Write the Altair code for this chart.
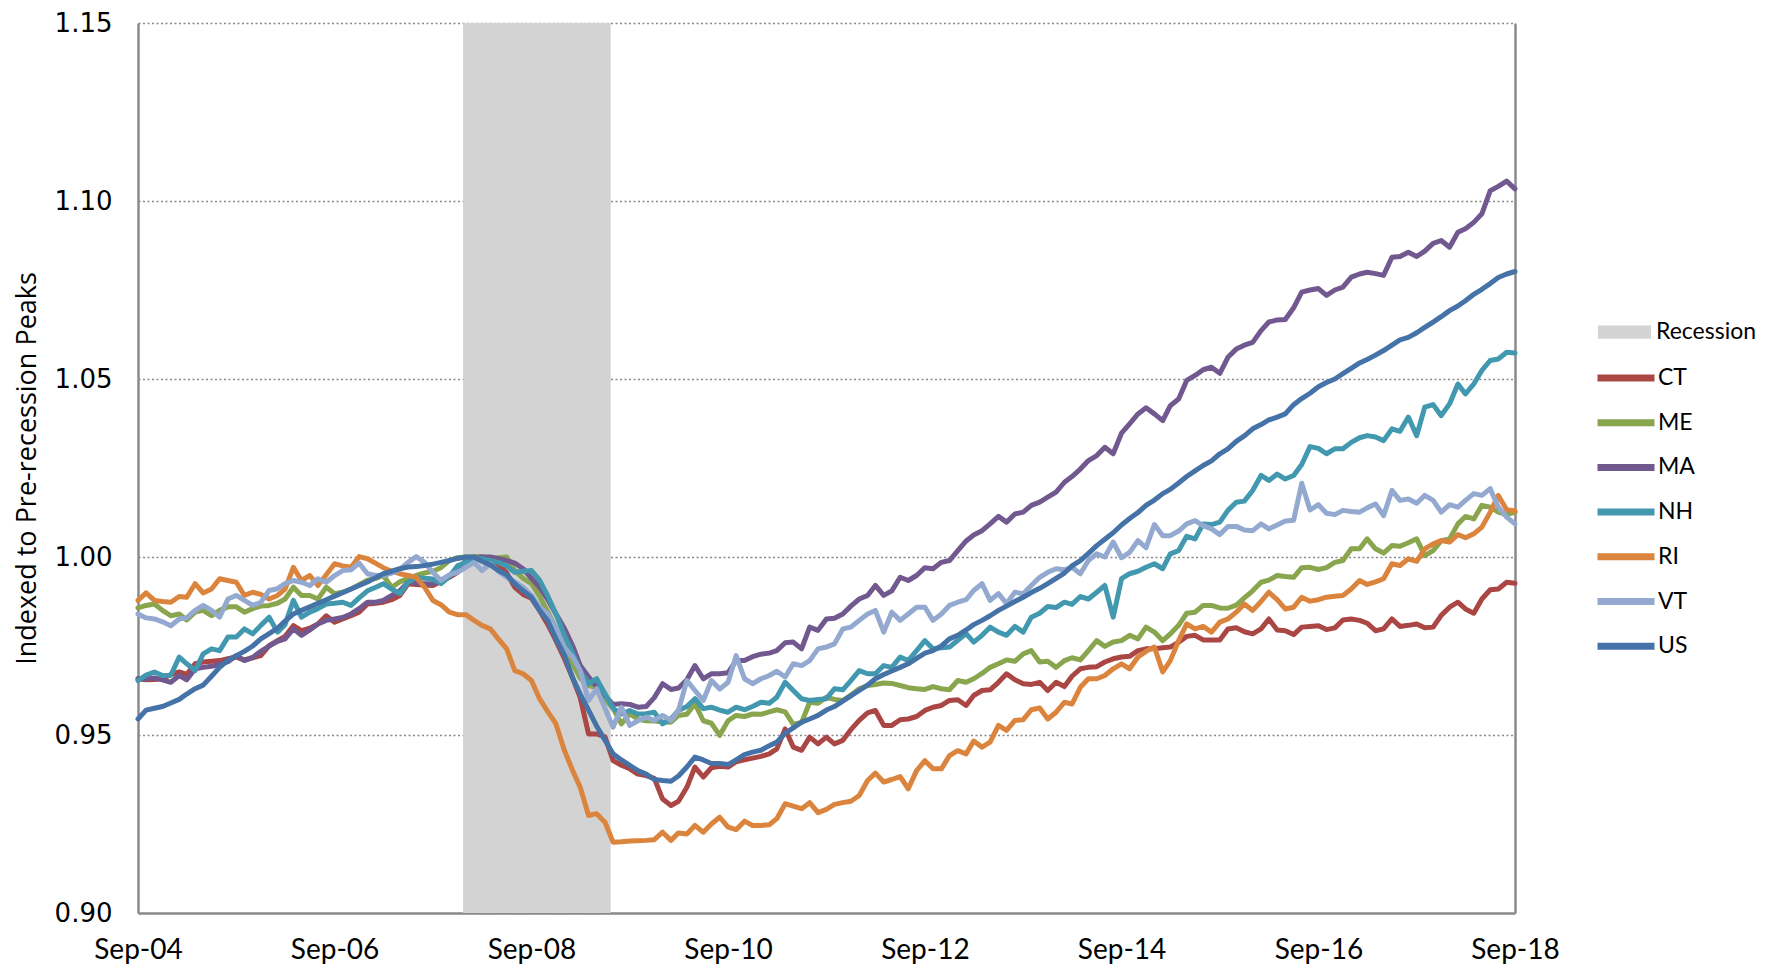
import altair as alt
import pandas as pd

# ---------------- data ----------------
MONTHS = pd.date_range("2004-09-01", "2018-09-01", freq="MS")  # Sep-04 .. Sep-18 monthly

SERIES = ["CT", "ME", "MA", "NH", "RI", "VT", "US"]
COLORS = ["#AA4643", "#89A54E", "#71588F", "#4198AF", "#DB843D", "#93A9CF", "#4572A7"]

CT = [0.9658, 0.9655, 0.9656, 0.9658, 0.967, 0.9677, 0.967, 0.970, 0.9705, 0.9707, 0.9709, 0.9714,
      0.9719, 0.9711, 0.9717, 0.9723, 0.9751, 0.9765, 0.9777, 0.9807, 0.9793, 0.980, 0.9812, 0.9835,
      0.9817, 0.9826, 0.9835, 0.9845, 0.9868, 0.987, 0.9873, 0.988, 0.9892, 0.9925, 0.9923, 0.9921,
      0.992, 0.9932, 0.9943, 0.9957, 0.999, 1.0, 1.0, 0.9995, 0.998, 0.9955, 0.9915, 0.9895,
      0.9884, 0.985, 0.981, 0.9765, 0.9715, 0.966, 0.9605, 0.9503, 0.9503, 0.9495, 0.9428, 0.9415,
      0.9405, 0.939, 0.9386, 0.9378, 0.932, 0.9302, 0.9314, 0.9353, 0.941, 0.9382, 0.9408, 0.9412,
      0.941, 0.9425, 0.943, 0.9435, 0.944, 0.9447, 0.9461, 0.9517, 0.9466, 0.9457, 0.9494, 0.9475,
      0.9494, 0.9475, 0.9485, 0.9515, 0.9541, 0.9562, 0.9569, 0.9527, 0.9527, 0.9543, 0.9545, 0.9552,
      0.9569, 0.9578, 0.9583, 0.9597, 0.9599, 0.9583, 0.9611, 0.9625, 0.9627, 0.9648, 0.9672, 0.9655,
      0.9644, 0.9642, 0.9648, 0.9625, 0.9648, 0.9636, 0.9665, 0.9686, 0.969, 0.9692, 0.9705, 0.9714,
      0.9719, 0.9721, 0.9737, 0.9742, 0.9742, 0.9745, 0.9747, 0.9761, 0.9777, 0.978, 0.9767, 0.9767,
      0.9767, 0.9798, 0.9801, 0.979, 0.9784, 0.9798, 0.9826, 0.9795, 0.9793, 0.9782, 0.9803, 0.9805,
      0.9807, 0.9796, 0.9801, 0.9823, 0.9826, 0.9822, 0.9814, 0.9793, 0.9798, 0.9826, 0.9805, 0.9808,
      0.9812, 0.9801, 0.9803, 0.9836, 0.9859, 0.9873, 0.9854, 0.9842, 0.9882, 0.9908, 0.991, 0.9929,
      0.9926]

ME = [0.9857, 0.9864, 0.9868, 0.985, 0.9835, 0.984, 0.9823, 0.9845, 0.985, 0.9835, 0.985, 0.986,
      0.986, 0.9845, 0.9855, 0.9862, 0.9864, 0.987, 0.9882, 0.9915, 0.9892, 0.9892, 0.9882, 0.9915,
      0.9897, 0.9901, 0.991, 0.9922, 0.9935, 0.994, 0.9948, 0.9915, 0.993, 0.994, 0.9948, 0.9955,
      0.996, 0.997, 0.999, 0.9998, 1.0, 1.0, 1.0, 0.9995, 0.9998, 1.0, 0.9962, 0.994,
      0.9925, 0.989, 0.9845, 0.980, 0.9747, 0.970, 0.966, 0.9639, 0.9634, 0.960, 0.9575, 0.9531,
      0.9559, 0.9545, 0.954, 0.9539, 0.9537, 0.9536, 0.9555, 0.9558, 0.9588, 0.954, 0.9533, 0.9499,
      0.954, 0.9555, 0.9552, 0.9559, 0.9558, 0.9565, 0.9571, 0.9565, 0.953, 0.9535, 0.9592, 0.9589,
      0.9606, 0.960, 0.9597, 0.9612, 0.963, 0.9639, 0.9642, 0.9646, 0.9645, 0.9639, 0.9633, 0.963,
      0.9628, 0.9636, 0.963, 0.9627, 0.9653, 0.9648, 0.9658, 0.9673, 0.969, 0.970, 0.9711, 0.9707,
      0.9728, 0.9737, 0.9705, 0.9707, 0.969, 0.9709, 0.9717, 0.9711, 0.9737, 0.9765, 0.9749, 0.9761,
      0.9765, 0.978, 0.977, 0.9803, 0.9789, 0.9765, 0.9784, 0.9808, 0.9842, 0.9845, 0.9864, 0.9864,
      0.9857, 0.9856, 0.9865, 0.9885, 0.9905, 0.9929, 0.9935, 0.9948, 0.9945, 0.9943, 0.997, 0.9971,
      0.9965, 0.997, 0.9985, 0.999, 1.0023, 1.0023, 1.0051, 1.0023, 1.0011, 1.0032, 1.003, 1.004,
      1.0051, 1.0004, 1.0018, 1.0046, 1.0051, 1.0093, 1.0114, 1.0107, 1.0145, 1.014, 1.0126, 1.0119,
      1.0126]

MA = [0.9658, 0.9658, 0.966, 0.9655, 0.9648, 0.9667, 0.9655, 0.9686, 0.969, 0.9693, 0.9698, 0.9706,
      0.9723, 0.9709, 0.9718, 0.9735, 0.975, 0.9763, 0.977, 0.9798, 0.978, 0.9795, 0.9812, 0.9822,
      0.9826, 0.983, 0.984, 0.9855, 0.9873, 0.9873, 0.9878, 0.9892, 0.9905, 0.9929, 0.9927, 0.9925,
      0.9925, 0.9935, 0.9948, 0.9958, 0.9975, 0.9995, 1.0, 1.0, 0.9995, 0.999, 0.9983, 0.9967,
      0.994, 0.9915, 0.988, 0.984, 0.980, 0.975, 0.9695, 0.9663, 0.9636, 0.961, 0.9586, 0.9588,
      0.9586, 0.9578, 0.958, 0.9605, 0.9644, 0.9628, 0.9632, 0.9655, 0.9695, 0.9658, 0.9672, 0.9672,
      0.9675, 0.9709, 0.9709, 0.972, 0.9727, 0.973, 0.9737, 0.9759, 0.9761, 0.9742, 0.9803, 0.9794,
      0.9826, 0.9828, 0.984, 0.9862, 0.9882, 0.9892, 0.992, 0.9892, 0.9905, 0.9943, 0.9934, 0.9948,
      0.997, 0.9967, 0.9985, 0.999, 1.0018, 1.0045, 1.0062, 1.0074, 1.0093, 1.0114, 1.0098, 1.0121,
      1.0126, 1.0145, 1.0154, 1.0168, 1.0182, 1.021, 1.0226, 1.0247, 1.0271, 1.0285, 1.0308, 1.029,
      1.0348, 1.0374, 1.0402, 1.0419, 1.0402, 1.0383, 1.0425, 1.0444, 1.0496, 1.051, 1.0526, 1.0533,
      1.0516, 1.0561, 1.0584, 1.0595, 1.0603, 1.0636, 1.066, 1.0666, 1.0667, 1.070, 1.0744, 1.075,
      1.0754, 1.0735, 1.075, 1.0758, 1.0786, 1.0795, 1.08, 1.0796, 1.0791, 1.0842, 1.0844, 1.0856,
      1.0844, 1.0859, 1.0881, 1.0889, 1.087, 1.0912, 1.0922, 1.094, 1.0964, 1.1029, 1.1041, 1.1056,
      1.1034]

NH = [0.9653, 0.9668, 0.9677, 0.9667, 0.9668, 0.9719, 0.970, 0.9681, 0.9728, 0.9742, 0.9737, 0.9775,
      0.9775, 0.9798, 0.9784, 0.9808, 0.9831, 0.9789, 0.981, 0.9878, 0.9831, 0.9845, 0.9855, 0.9868,
      0.987, 0.9873, 0.9864, 0.9885, 0.9905, 0.9915, 0.9925, 0.991, 0.9897, 0.9929, 0.9943, 0.994,
      0.9938, 0.9925, 0.9945, 0.9975, 0.9985, 0.9998, 0.9995, 0.999, 0.9985, 0.9975, 0.9957, 0.996,
      0.9962, 0.9935, 0.989, 0.984, 0.978, 0.973, 0.968, 0.9644, 0.9658, 0.9616, 0.9575, 0.9559,
      0.9569, 0.9559, 0.956, 0.9564, 0.9531, 0.9545, 0.9569, 0.958, 0.9602, 0.9574, 0.9578, 0.957,
      0.9564, 0.9578, 0.9571, 0.958, 0.9592, 0.9589, 0.9606, 0.9648, 0.9625, 0.9602, 0.9597, 0.960,
      0.9602, 0.963, 0.9627, 0.9653, 0.9681, 0.9672, 0.9672, 0.9695, 0.969, 0.9719, 0.9709, 0.9737,
      0.9765, 0.9742, 0.9745, 0.9747, 0.9766, 0.9785, 0.9761, 0.978, 0.9803, 0.9789, 0.978, 0.9805,
      0.9789, 0.9831, 0.9842, 0.9861, 0.9858, 0.9873, 0.9867, 0.9889, 0.9882, 0.9901, 0.992, 0.9831,
      0.9939, 0.9953, 0.996, 0.9971, 0.9981, 0.9967, 1.0009, 1.0018, 1.0058, 1.0051, 1.0093, 1.0091,
      1.0098, 1.0131, 1.0154, 1.0157, 1.0187, 1.0229, 1.0215, 1.0233, 1.0219, 1.0229, 1.026, 1.031,
      1.0305, 1.029, 1.0304, 1.0304, 1.0322, 1.0335, 1.0341, 1.0337, 1.0327, 1.036, 1.0353, 1.0393,
      1.0341, 1.0421, 1.0428, 1.0397, 1.043, 1.0486, 1.0458, 1.0486, 1.0524, 1.0552, 1.0556, 1.0575,
      1.0573]

RI = [0.9878, 0.9899, 0.9878, 0.9875, 0.9873, 0.9889, 0.9887, 0.9925, 0.9899, 0.991, 0.9939, 0.9934,
      0.9929, 0.9892, 0.9901, 0.9895, 0.9882, 0.9892, 0.991, 0.9971, 0.9934, 0.9948, 0.992, 0.995,
      0.9981, 0.9975, 0.9971, 1.0001, 0.9995, 0.9982, 0.997, 0.996, 0.9953, 0.9948, 0.9943, 0.9915,
      0.9878, 0.9866, 0.9845, 0.9838, 0.9838, 0.9822, 0.9808, 0.9798, 0.977, 0.9742, 0.9681, 0.9672,
      0.9653, 0.9602, 0.9565, 0.9531, 0.9457, 0.940, 0.9353, 0.9274, 0.9279, 0.9255, 0.9199, 0.920,
      0.9202, 0.9203, 0.9204, 0.9206, 0.9227, 0.9204, 0.9225, 0.9222, 0.9246, 0.9227, 0.925, 0.9269,
      0.9241, 0.9234, 0.9258, 0.9246, 0.9246, 0.9248, 0.9265, 0.9307, 0.930, 0.9293, 0.931, 0.9282,
      0.9291, 0.9305, 0.931, 0.9314, 0.933, 0.9372, 0.9393, 0.9368, 0.9375, 0.9383, 0.9349, 0.940,
      0.9428, 0.9405, 0.9405, 0.9442, 0.9456, 0.9447, 0.9483, 0.9466, 0.948, 0.9527, 0.9513, 0.9541,
      0.9543, 0.9571, 0.9576, 0.9545, 0.9564, 0.9592, 0.9587, 0.9634, 0.9658, 0.9658, 0.9667, 0.9686,
      0.970, 0.9686, 0.9719, 0.9735, 0.9747, 0.9677, 0.9709, 0.9765, 0.9812, 0.9798, 0.9805, 0.9789,
      0.9817, 0.9826, 0.9845, 0.9868, 0.985, 0.9875, 0.9901, 0.988, 0.9854, 0.9859, 0.9887, 0.9876,
      0.988, 0.9887, 0.989, 0.9892, 0.991, 0.9934, 0.9923, 0.993, 0.9939, 0.9981, 0.9976, 0.9995,
      0.9988, 1.0023, 1.0037, 1.0046, 1.0042, 1.0063, 1.0054, 1.0065, 1.0084, 1.0126, 1.0173, 1.0133,
      1.0129]

VT = [0.984, 0.9829, 0.9826, 0.9818, 0.9807, 0.9826, 0.9829, 0.985, 0.9864, 0.985, 0.9831, 0.9882,
      0.9892, 0.9878, 0.9864, 0.9873, 0.9906, 0.9911, 0.9925, 0.9934, 0.9929, 0.992, 0.9939, 0.9929,
      0.9948, 0.9962, 0.9964, 0.9983, 0.9953, 0.9948, 0.9948, 0.9955, 0.9965, 0.9985, 1.0001, 0.9985,
      0.9957, 0.9934, 0.995, 0.9957, 0.9971, 0.9985, 0.9962, 0.9981, 0.996, 0.9943, 0.993, 0.9915,
      0.9892, 0.986, 0.984, 0.980, 0.9745, 0.9719, 0.9681, 0.9597, 0.963, 0.9575, 0.9522, 0.9578,
      0.9527, 0.954, 0.955, 0.9541, 0.9555, 0.9541, 0.9569, 0.9653, 0.9625, 0.9597, 0.9653, 0.9629,
      0.9648, 0.9723, 0.9658, 0.9644, 0.9658, 0.9667, 0.9679, 0.9663, 0.970, 0.9695, 0.9709, 0.9742,
      0.9747, 0.9756, 0.9798, 0.9803, 0.9822, 0.984, 0.985, 0.9789, 0.9845, 0.9822, 0.984, 0.9859,
      0.9859, 0.9822, 0.984, 0.9864, 0.9873, 0.988, 0.9906, 0.9925, 0.9878, 0.9897, 0.9869, 0.9901,
      0.9897, 0.992, 0.9943, 0.9957, 0.9967, 0.9964, 0.9971, 0.9953, 0.999, 1.0009, 1.0, 1.0042,
      0.9998, 1.0013, 1.0046, 1.0026, 1.0091, 1.006, 1.006, 1.0073, 1.0093, 1.0102, 1.0088, 1.0079,
      1.0063, 1.0086, 1.0086, 1.0076, 1.0074, 1.0093, 1.0079, 1.009, 1.0101, 1.0103, 1.0207, 1.0132,
      1.0147, 1.0123, 1.0119, 1.0131, 1.0128, 1.0126, 1.0138, 1.0149, 1.0116, 1.0187, 1.0159, 1.0163,
      1.0151, 1.0173, 1.0159, 1.0126, 1.0147, 1.014, 1.0159, 1.0178, 1.0173, 1.0192, 1.014, 1.0112,
      1.0093]

US = [0.9545, 0.957, 0.9575, 0.958, 0.959, 0.960, 0.9615, 0.963, 0.964, 0.9665, 0.969, 0.971,
      0.9723, 0.9735, 0.975, 0.977, 0.9785, 0.980, 0.982, 0.984, 0.985, 0.986, 0.987, 0.988,
      0.989, 0.990, 0.991, 0.992, 0.993, 0.9942, 0.9953, 0.996, 0.9967, 0.9972, 0.9973, 0.9976,
      0.998, 0.9985, 0.999, 0.9996, 1.0, 1.0, 0.9988, 0.9978, 0.9962, 0.995, 0.9925, 0.9905,
      0.9887, 0.985, 0.982, 0.977, 0.9725, 0.966, 0.9615, 0.957, 0.9525, 0.9485, 0.9447, 0.943,
      0.9415, 0.940, 0.939, 0.9375, 0.9372, 0.937, 0.9385, 0.941, 0.9438, 0.943, 0.942, 0.942,
      0.9417, 0.943, 0.9445, 0.9452, 0.9457, 0.947, 0.948, 0.9505, 0.952, 0.9536, 0.9545, 0.9555,
      0.957, 0.958, 0.9595, 0.961, 0.9625, 0.964, 0.9658, 0.967, 0.968, 0.969, 0.970, 0.9715,
      0.973, 0.9737, 0.975, 0.977, 0.978, 0.9795, 0.981, 0.9822, 0.9835, 0.985, 0.9862, 0.9875,
      0.9887, 0.990, 0.9912, 0.9925, 0.994, 0.9955, 0.9975, 0.999, 1.001, 1.0032, 1.005, 1.0068,
      1.009, 1.0108, 1.0125, 1.0145, 1.016, 1.0178, 1.019, 1.0208, 1.0226, 1.0242, 1.0257, 1.027,
      1.029, 1.0304, 1.0325, 1.034, 1.036, 1.0372, 1.0385, 1.0393, 1.0402, 1.0428, 1.0445, 1.046,
      1.0478, 1.049, 1.050, 1.0515, 1.053, 1.0545, 1.0555, 1.0567, 1.058, 1.0595, 1.061, 1.0617,
      1.063, 1.0645, 1.066, 1.0675, 1.0692, 1.0705, 1.072, 1.0738, 1.0752, 1.0768, 1.0785, 1.0795,
      1.0802]

REC_LABEL = ["Recession"]
REC_START = ["2007-12-22"]
REC_END = ["2009-06-22"]
REC_LOW = [0.90]
REC_HIGH = [1.15]
REC_COLOR = ["#D3D3D3"]

X_TICK_YEARS = [2004, 2006, 2008, 2010, 2012, 2014, 2016, 2018]
Y_TICKS = [0.90, 0.95, 1.00, 1.05, 1.10, 1.15]
Y_TITLE = "Indexed to Pre-recession Peaks"

# ---------------- tables ----------------
values = {"CT": CT, "ME": ME, "MA": MA, "NH": NH, "RI": RI, "VT": VT, "US": US}
rows = []
for s in SERIES:
    for d, v in zip(MONTHS, values[s]):
        rows.append({"date": d, "series": s, "value": v})
df = pd.DataFrame(rows)

rec_df = pd.DataFrame({
    "label": REC_LABEL,
    "start": pd.to_datetime(REC_START),
    "end": pd.to_datetime(REC_END),
    "low": REC_LOW,
    "high": REC_HIGH,
})

# ---------------- styling ----------------
GRAY = "#8A8A8A"
x_scale = alt.Scale(domain=[alt.DateTime(year=2004, month=9, date=1),
                            alt.DateTime(year=2018, month=9, date=1)])
y_scale = alt.Scale(domain=[0.90, 1.15], nice=False, zero=False)

x_axis = alt.Axis(
    values=[alt.DateTime(year=y, month=9, date=1) for y in X_TICK_YEARS],
    format="%b-%y", title=None, ticks=False, tickSize=0, grid=False,
    labelFont="Lato", labelFontSize=28, labelColor="#000000", labelPadding=23,
    labelFlush=False, labelOverlap=False, labelBound=False,
    domainColor=GRAY, domainWidth=2.5,
)
y_axis_left = alt.Axis(
    values=Y_TICKS, format=".2f", title=Y_TITLE,
    ticks=False, tickSize=0, grid=True, gridColor=GRAY, gridDash=[2, 2.5], gridWidth=1.5,
    labelFont="DejaVu Sans", labelFontSize=26, labelColor="#000000", labelPadding=26,
    domainColor=GRAY, domainWidth=2.5,
    titleFont="Open Sans", titleFontSize=27, titleFontWeight="normal", titleColor="#000000",
    titleAngle=270, titleX=-111, titleY=445, titleAlign="center", titleBaseline="middle",
)
y_axis_right = alt.Axis(
    orient="right", labels=False, ticks=False, tickSize=0, grid=False, title=None,
    domainColor=GRAY, domainWidth=2.5,
)

rect = alt.Chart(rec_df).mark_rect().encode(
    x=alt.X("start:T", scale=x_scale, axis=x_axis),
    x2="end:T",
    y=alt.Y("low:Q", scale=y_scale, axis=y_axis_right),
    y2="high:Q",
    fill=alt.Fill("label:N", scale=alt.Scale(domain=REC_LABEL, range=REC_COLOR),
                  legend=alt.Legend(
                      title=None, orient="none", legendX=1460, legendY=299,
                      direction="vertical", columns=1, padding=0,
                      symbolType="M-1,-0.25H1V0.25H-1Z", symbolSize=2809,
                      symbolStrokeWidth=0, clipHeight=20,
                      labelFont="Lato", labelFontSize=23, labelColor="#000000",
                      labelOffset=5)),
)

lines = alt.Chart(df).mark_line(strokeWidth=5, strokeCap="round", strokeJoin="round").encode(
    x=alt.X("date:T", scale=x_scale, axis=x_axis),
    y=alt.Y("value:Q", scale=y_scale, axis=y_axis_left),
    color=alt.Color("series:N", sort=SERIES, scale=alt.Scale(domain=SERIES, range=COLORS),
                    legend=alt.Legend(
                        title=None, orient="none", legendX=1456, legendY=345,
                        direction="vertical", columns=1, padding=0,
                        symbolType="stroke", symbolSize=3249, symbolStrokeWidth=7,
                        clipHeight=20, rowPadding=21.7,
                        labelFont="Lato", labelFontSize=23, labelColor="#000000",
                        labelOffset=0)),
)

chart = alt.layer(rect, lines).resolve_axis(y="independent").resolve_scale(
    fill="independent", color="independent"
).properties(
    width=1377, height=890,
    autosize=alt.AutoSizeParams(type="none"),
    padding={"left": 130, "top": 15, "right": 250, "bottom": 52},
    background="#FFFFFF",
).configure_view(stroke=None)

chart.save("out.html", embed_options={"renderer": "svg", "actions": False})
